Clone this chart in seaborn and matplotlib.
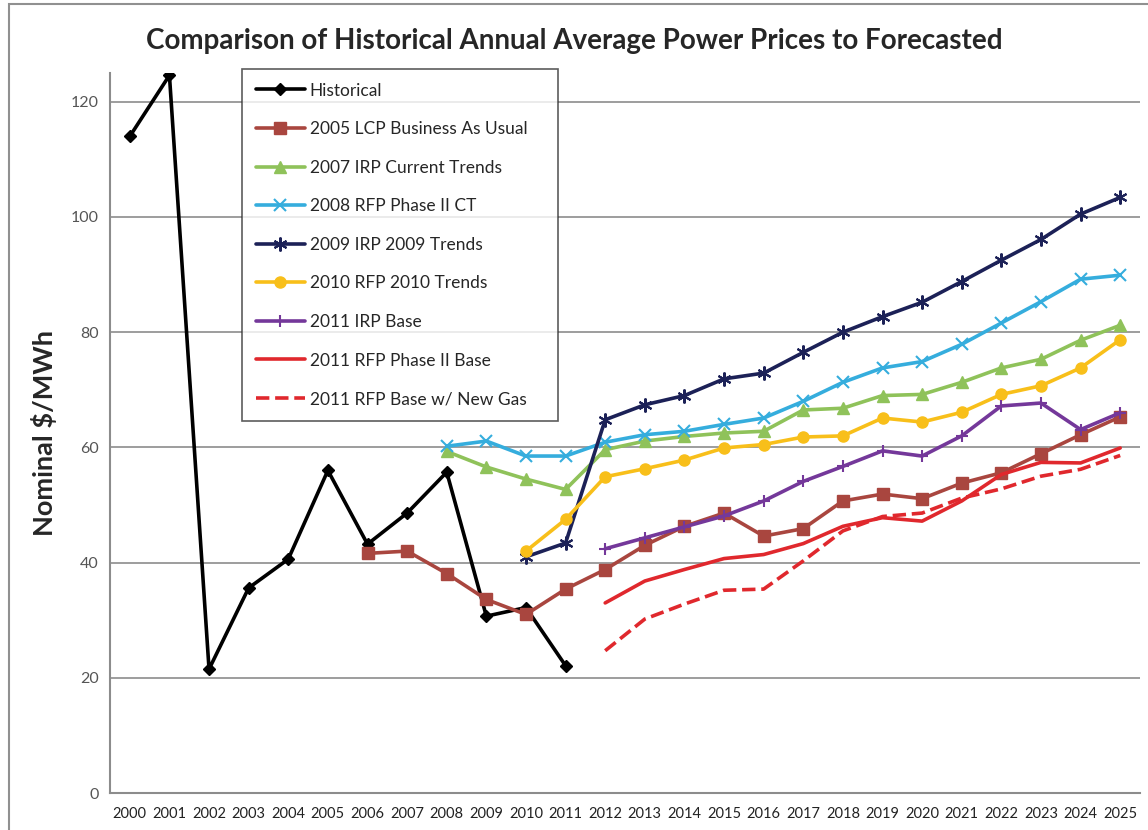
import matplotlib
matplotlib.use("Agg")
import matplotlib.pyplot as plt
import seaborn as sns
import pandas as pd
from matplotlib.patches import Rectangle

# --- data ---
years_all = list(range(2000, 2026))

hist_years = list(range(2000, 2012))
hist_vals = [114.0, 124.6, 21.5, 35.6, 40.6, 56.0, 43.2, 48.6, 55.7, 30.7, 32.2, 22.1]

lcp2005_years = list(range(2006, 2026))
lcp2005_vals = [41.6, 42.0, 38.1, 33.6, 31.0, 35.4, 38.8, 43.0, 46.3, 48.6,
                44.6, 45.9, 50.7, 51.9, 51.1, 53.8, 55.6, 58.9, 62.2, 65.3]

irp2007_years = list(range(2008, 2026))
irp2007_vals = [59.3, 56.6, 54.5, 52.7, 59.6, 61.1, 61.9, 62.5, 62.8, 66.5,
                66.8, 69.0, 69.2, 71.3, 73.8, 75.3, 78.6, 81.2]

rfp2008_years = list(range(2008, 2026))
rfp2008_vals = [60.2, 61.1, 58.5, 58.5, 60.9, 62.2, 62.8, 64.0, 65.1, 68.0,
                71.3, 73.8, 74.9, 77.9, 81.6, 85.3, 89.2, 89.9]

irp2009_years = list(range(2010, 2026))
irp2009_vals = [41.0, 43.4, 64.8, 67.4, 69.0, 71.9, 72.9, 76.5, 80.0, 82.7,
                85.2, 88.8, 92.5, 96.1, 100.5, 103.4]

rfp2010_years = list(range(2010, 2026))
rfp2010_vals = [42.0, 47.5, 54.9, 56.3, 57.8, 59.9, 60.5, 61.8, 62.0, 65.1,
                64.4, 66.1, 69.2, 70.7, 73.8, 78.7]

irp2011_years = list(range(2012, 2026))
irp2011_vals = [42.4, 44.3, 46.2, 48.1, 50.7, 54.1, 56.7, 59.4, 58.5, 62.0,
                67.2, 67.7, 63.1, 66.0]

rfp2011_years = list(range(2012, 2026))
rfp2011_vals = [33.0, 36.8, 38.8, 40.7, 41.4, 43.3, 46.3, 47.8, 47.2, 50.7,
                55.3, 57.4, 57.3, 59.9]

gas2011_years = list(range(2012, 2026))
gas2011_vals = [24.7, 30.2, 32.8, 35.2, 35.4, 40.3, 45.5, 48.0, 48.6, 51.2,
                52.8, 55.0, 56.2, 58.6]

y_ticks = [0, 20, 40, 60, 80, 100, 120]

# (label, years, values, colour, marker, markersize, linestyle)
series = [
    ("Historical", hist_years, hist_vals, "#000000", "D", 6, "-"),
    ("2005 LCP Business As Usual", lcp2005_years, lcp2005_vals, "#A9463F", "s", 8, "-"),
    ("2007 IRP Current Trends", irp2007_years, irp2007_vals, "#8FC25A", "^", 8, "-"),
    ("2008 RFP Phase II CT", rfp2008_years, rfp2008_vals, "#35ADDD", "x", 8, "-"),
    ("2009 IRP 2009 Trends", irp2009_years, irp2009_vals, "#1C2157", (6, 2, 0), 10, "-"),
    ("2010 RFP 2010 Trends", rfp2010_years, rfp2010_vals, "#F8BF1A", "o", 8, "-"),
    ("2011 IRP Base", irp2011_years, irp2011_vals, "#74389A", "+", 9, "-"),
    ("2011 RFP Phase II Base", rfp2011_years, rfp2011_vals, "#E0282D", None, 0, "-"),
    ("2011 RFP Base w/ New Gas", gas2011_years, gas2011_vals, "#E0282D", None, 0, "--"),
]

sns.set_style("white")
plt.rcParams["font.family"] = ["Lato", "DejaVu Sans"]

fig = plt.figure(figsize=(11.48, 8.30), dpi=100)
ax = fig.add_axes([110 / 1148, 1 - 793 / 830, 1030 / 1148, (793 - 73) / 830])

for label, yrs, vals, col, mk, ms, ls in series:
    df = pd.DataFrame({"Year": yrs, "Value": vals})
    sns.lineplot(data=df, x="Year", y="Value", ax=ax, color=col, label=label,
                 marker=mk, markersize=ms, markeredgecolor=col,
                 markeredgewidth=1.5 if mk in ("x", "+", (6, 2, 0)) else 1,
                 linestyle=ls, linewidth=2.6)

ax.set_xlim(1999.5, 2025.5)
ax.set_ylim(0, 125)
ax.set_yticks(y_ticks)
ax.set_xticks(years_all)
ax.set_xticks([y - 0.5 for y in years_all] + [2025.5], minor=True)
ax.tick_params(axis="x", which="major", length=0, pad=10, labelsize=10.5, colors="#222222")
ax.tick_params(axis="x", which="minor", length=5, color="#888888", direction="out")
ax.tick_params(axis="y", length=5, color="#888888", direction="out", labelsize=11.5,
               labelcolor="#555555", pad=3)
ax.yaxis.grid(True, color="#8C8C8C", linewidth=1.2)
ax.xaxis.grid(False)
ax.set_axisbelow(True)

for s in ["top", "right"]:
    ax.spines[s].set_visible(False)
for s in ["left", "bottom"]:
    ax.spines[s].set_color("#8C8C8C")
    ax.spines[s].set_linewidth(1.5)

ax.set_xlabel("")
ax.set_ylabel("Nominal $/MWh", fontsize=19.5, fontweight="bold", labelpad=10)

fig.suptitle("Comparison of Historical Annual Average Power Prices to Forecasted",
             x=0.5, y=0.966, fontsize=20, fontweight="bold")

leg = ax.legend(loc="upper left", bbox_to_anchor=(132 / 1030, 0, 316 / 1030, 1.006),
                mode="expand", borderaxespad=0, fontsize=12.5, frameon=True,
                fancybox=False, handlelength=2.8, labelspacing=1.3, borderpad=0.8,
                handletextpad=0.3)
leg.get_frame().set_edgecolor("#333333")
leg.get_frame().set_linewidth(1.2)

# outer chart border
fig.patches.append(Rectangle((9 / 1148, -0.01), 1.0, 1 - 4 / 830 + 0.01,
                             transform=fig.transFigure, fill=False,
                             edgecolor="#909090", linewidth=1.5))

fig.savefig("out.png", dpi=100)
